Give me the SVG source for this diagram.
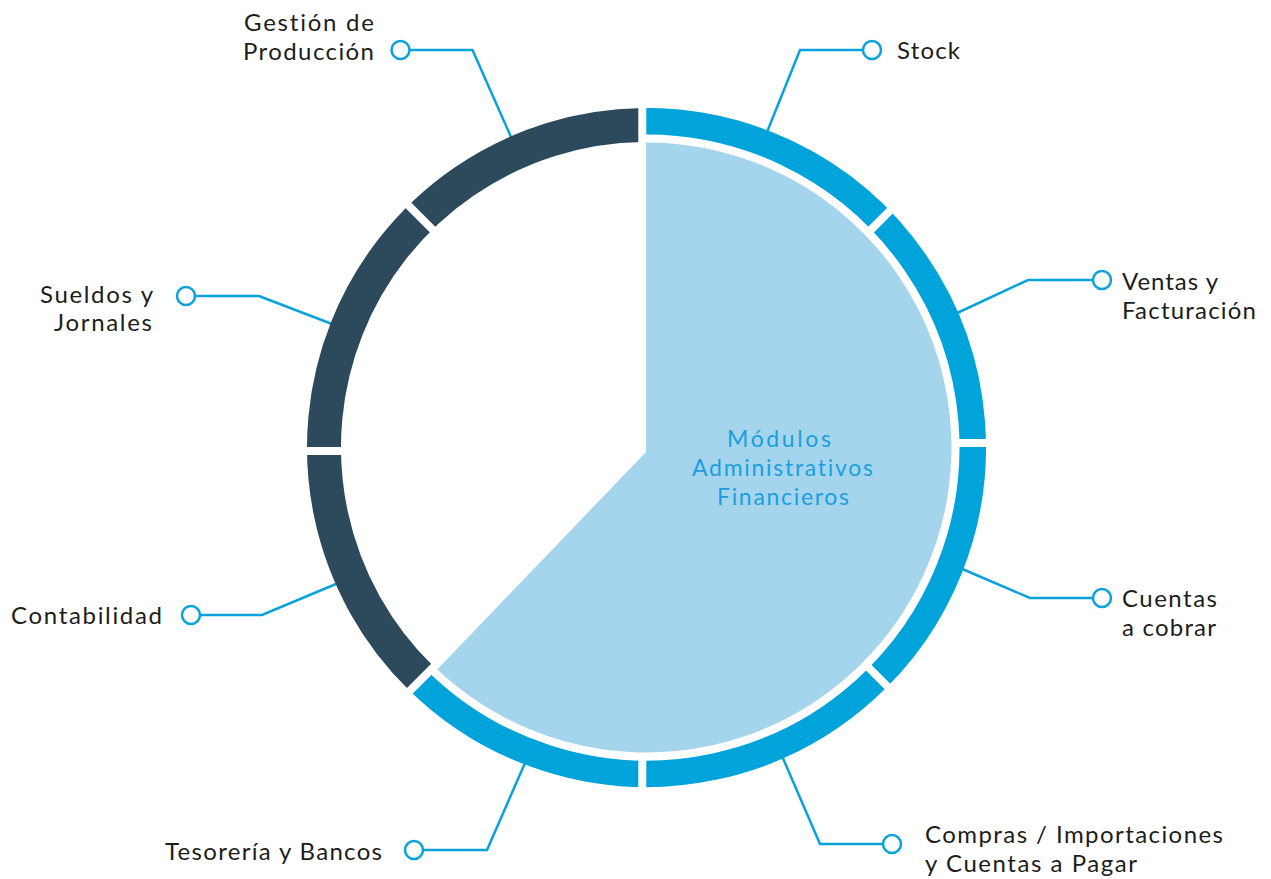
<svg xmlns="http://www.w3.org/2000/svg" width="1271" height="879" viewBox="0 0 1271 879">
<style>
.lbl{font-family:Lato,"Open Sans","Liberation Sans",sans-serif;font-size:24px;fill:#1d1d1b;font-variant-ligatures:none}
.ctr{font-family:Lato,"Open Sans","Liberation Sans",sans-serif;font-size:23px;fill:#1aa0dc;font-variant-ligatures:none}
.con{fill:none;stroke:#0aa2db;stroke-width:2.5;stroke-linejoin:miter}
.dot{fill:#fff;stroke:#0aa2db;stroke-width:2.5}
.gap{stroke:#fff;stroke-width:8;fill:none}
</style>
<rect width="1271" height="879" fill="#fff"/>
<g id="connectors">
<path class="con" d="M409.5,50 L472.5,50 L511,137"/>
<path class="con" d="M863,50 L800,50 L767,132"/>
<path class="con" d="M1093,280 L1028,280 L955,314"/>
<path class="con" d="M1093,598 L1030,598 L960,568"/>
<path class="con" d="M883,844 L820,844 L782,756"/>
<path class="con" d="M423,850 L487,850 L525,763"/>
<path class="con" d="M200,615 L262,615 L336,584"/>
<path class="con" d="M195,296 L259,296 L332,324"/>
</g>
<g id="ring">
<path d="M642.3,121.28 A326.25,326.25 0 1 1 418.84,681.19" fill="none" stroke="#00a3da" stroke-width="26.5"/>
<path d="M421.46,678.51 A322.5,322.5 0 0 1 642.3,125.03" fill="none" stroke="#2c4a5b" stroke-width="34"/>
<path class="gap" d="M642.3,100 L642.3,143"/>
<path class="gap" d="M953,443 L995,443"/>
<path class="gap" d="M642.3,756 L642.3,795"/>
<path class="gap" d="M296,451 L350,451"/>
<path class="gap" d="M868.5,232.1 L900,200.6"/>
<path class="gap" d="M440,660.6 L400,700.6"/>
<path class="gap" d="M440,237 L398,195"/>
<path class="gap" d="M866,665 L902,701"/>
</g>
<g id="center">
<path d="M646,452 L646,142.5 A305,305 0 1 1 437.2,669.4 Z" fill="#a5d4ed"/>
<text class="ctr" x="727" y="447" textLength="104">Módulos</text>
<text class="ctr" x="692" y="476" textLength="181">Administrativos</text>
<text class="ctr" x="717" y="505" textLength="132">Financieros</text>
</g>
<g id="gestion">
<circle class="dot" cx="400.5" cy="50" r="9"/>
<text class="lbl" x="244" y="30.5" textLength="130">Gestión de</text>
<text class="lbl" x="243" y="59.5" textLength="131">Producción</text>
</g>
<g id="stock">
<circle class="dot" cx="872" cy="50" r="9"/>
<text class="lbl" x="897" y="58.5" textLength="63">Stock</text>
</g>
<g id="ventas">
<circle class="dot" cx="1102" cy="280" r="9"/>
<text class="lbl" x="1122" y="290" textLength="96">Ventas y</text>
<text class="lbl" x="1122" y="319" textLength="134">Facturación</text>
</g>
<g id="cuentas-cobrar">
<circle class="dot" cx="1102" cy="598" r="9"/>
<text class="lbl" x="1122" y="607" textLength="95">Cuentas</text>
<text class="lbl" x="1122" y="636" textLength="94">a cobrar</text>
</g>
<g id="compras">
<circle class="dot" cx="892" cy="844" r="9"/>
<text class="lbl" x="925" y="843" textLength="298">Compras / Importaciones</text>
<text class="lbl" x="925" y="872" textLength="212">y Cuentas a Pagar</text>
</g>
<g id="tesoreria">
<circle class="dot" cx="414" cy="850" r="9"/>
<text class="lbl" x="165" y="859.5" textLength="217">Tesorería y Bancos</text>
</g>
<g id="contabilidad">
<circle class="dot" cx="191" cy="615" r="9"/>
<text class="lbl" x="11" y="624" textLength="151">Contabilidad</text>
</g>
<g id="sueldos">
<circle class="dot" cx="186" cy="296" r="9"/>
<text class="lbl" x="40" y="303" textLength="113">Sueldos y</text>
<text class="lbl" x="54" y="331" textLength="98">Jornales</text>
</g>
</svg>
